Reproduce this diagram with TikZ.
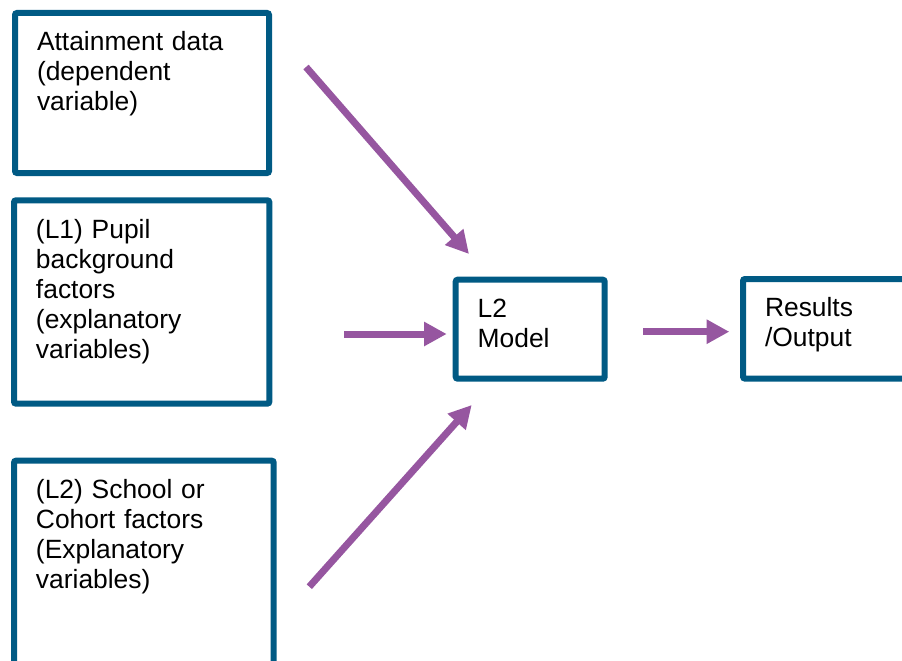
\documentclass[tikz,border=0pt]{standalone}
\usepackage{fontspec}
\setmainfont{Liberation Sans}
\usetikzlibrary{arrows.meta}
\pgfdeclarelayer{nodelayer}
\pgfdeclarelayer{edgelayer}
\pgfsetlayers{edgelayer,nodelayer,main}
\definecolor{boxblue}{RGB}{0,90,132}
\definecolor{flowpurple}{RGB}{150,86,160}
\tikzstyle{factor box}=[fill=white, draw=boxblue, shape=rectangle, line width=4.5pt, rounded corners=1.5pt, outer sep=0pt, anchor=north west, align=left, inner xsep=16.5pt, inner ysep=6pt, text height=22.3pt, font=\fontsize{19.8}{22.5}\selectfont]
\tikzstyle{flow edge}=[draw=flowpurple, line width=5.25pt, -{Triangle[length=17pt, width=17.25pt]}]

\begin{document}
\begin{tikzpicture}[x=0.75pt, y=-0.75pt]
	\useasboundingbox (0, 0) rectangle (902, 660);
	\begin{pgfonlayer}{nodelayer}
		\clip (0, 0) rectangle (902, 660);
		\node [style=factor box, text width=157.5pt, text depth=85.7pt] (0) at (15, 13) {Attainment data\\(dependent\\variable)};
		\node [style=factor box, text width=158.5pt, text depth=118.2pt] (1) at (14, 200.3) {(L1) Pupil\\background\\factors\\(explanatory\\variables)};
		\node [style=factor box, text width=161.8pt, text depth=138.2pt] (2) at (14, 460.7) {(L2) School or\\Cohort factors\\(Explanatory\\variables)};
		\node [style=factor box, text width=78.75pt, text depth=39.95pt] (3) at (455.7, 279.7) {L2\\Model};
		\node [style=factor box, text width=129.75pt, text depth=40.4pt] (4) at (743, 279) {Results\\/Output};
		\coordinate (5) at (306, 67);
		\coordinate (6) at (469, 254);
		\coordinate (7) at (344, 334);
		\coordinate (8) at (446.7, 334);
		\coordinate (9) at (309.3, 586.7);
		\coordinate (10) at (471.7, 405);
		\coordinate (11) at (643.3, 331.7);
		\coordinate (12) at (729.3, 331.7);
	\end{pgfonlayer}
	\begin{pgfonlayer}{edgelayer}
		\draw [style=flow edge] (5) to (6);
		\draw [style=flow edge] (7) to (8);
		\draw [style=flow edge] (9) to (10);
		\draw [style=flow edge] (11) to (12);
	\end{pgfonlayer}
\end{tikzpicture}
\end{document}
